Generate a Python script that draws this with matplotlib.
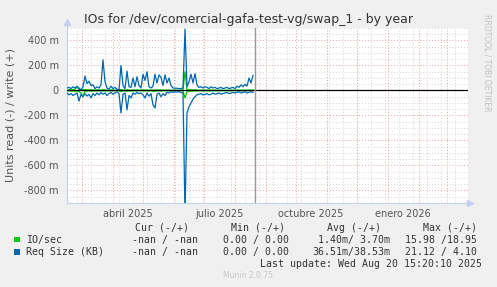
import matplotlib
matplotlib.use("Agg")
import matplotlib.pyplot as plt
import pandas as pd
from matplotlib.patches import Rectangle

# Datos (cada 2 días, desde 2025-02-14), valores en "m" (mili)
dates = pd.date_range("2025-02-14", periods=94, freq="2D")

req_write = [20, 25, 15, 30, 20, 35, 10, 5, 30, 115,
             55, 75, 40, 45, 15, 30, 20, 45, 245, 70,
             20, 10, 35, 15, 25, 10, 5, 200, 40, 15,
             155, 30, 25, 100, 30, 110, 40, 20, 130, 80,
             150, 30, 20, 35, 130, 60, 125, 105, 40, 125,
             60, 100, 40, 20, 18, 18, 15, 15, 20, 490,
             30, 70, 130, 60, 135, 45, 25, 30, 20, 30,
             25, 15, 30, 20, 25, 15, 20, 25, 15, 20,
             25, 15, 20, 25, 15, 35, 25, 45, 30, 50,
             35, 100, 60, 120]
req_read = [-20, -35, -25, -40, -30, -20, -85, -30, -50, -25,
            -45, -30, -60, -25, -40, -20, -35, -15, -30, -20,
            -40, -25, -15, -30, -20, -10, -25, -180, -30, -20,
            -155, -40, -60, -20, -30, -15, -25, -20, -35, -60,
            -20, -45, -25, -115, -140, -30, -20, -50, -25, -40,
            -15, -20, -10, -15, -10, -12, -10, -15, -20, -1000,
            -180, -130, -100, -70, -50, -35, -30, -25, -35, -30,
            -25, -35, -30, -20, -30, -25, -20, -30, -25, -20,
            -15, -25, -20, -15, -20, -15, -10, -20, -15, -10,
            -20, -15, -10, -15]
io_write = [5, 8, 10, 6, 12, 25, 20, 4, 6, 8,
            5, 6, 4, 5, 3, 4, 5, 3, 6, 4,
            3, 2, 4, 3, 2, 3, 2, 8, 3, 2,
            6, 3, 2, 4, 3, 4, 2, 3, 5, 3,
            4, 2, 3, 2, 5, 3, 4, 3, 2, 4,
            3, 3, 2, 2, 2, 2, 2, 2, 3, 150,
            8, 5, 6, 4, 6, 3, 2, 3, 2, 2,
            2, 2, 3, 2, 2, 2, 2, 2, 2, 2,
            2, 2, 2, 2, 2, 3, 2, 3, 2, 3,
            2, 4, 3, 5]
io_read = [-3, -4, -5, -3, -6, -4, -8, -20, -50, -6,
           -4, -3, -5, -3, -4, -2, -3, -2, -3, -2,
           -3, -2, -2, -3, -2, -1, -2, -8, -3, -2,
           -6, -3, -4, -2, -3, -2, -2, -2, -3, -4,
           -2, -3, -2, -5, -6, -2, -2, -3, -2, -3,
           -2, -2, -1, -1, -1, -1, -1, -1, -2, -60,
           -8, -6, -5, -4, -3, -3, -2, -2, -3, -2,
           -2, -3, -2, -2, -2, -2, -2, -2, -2, -2,
           -1, -2, -2, -1, -2, -1, -1, -2, -1, -1,
           -2, -1, -1, -1]

y_ticks = [-800, -600, -400, -200, 0, 200, 400]
x_labels = ["abril 2025", "julio 2025", "octubre 2025", "enero 2026"]
x_label_dates = pd.to_datetime(["2025-04-16", "2025-07-16", "2025-10-16", "2026-01-16"])

W, H = 497, 287
fig = plt.figure(figsize=(W / 100, H / 100), dpi=100, facecolor="#f0f0f0")
ax = fig.add_axes([67 / W, 1 - 203 / H, (468 - 67) / W, (203 - 28) / H])
ax.set_facecolor("white")

x0 = pd.Timestamp("2025-02-14")
x1 = pd.Timestamp("2026-03-22")
ax.set_xlim(x0, x1)
ax.set_ylim(-900, 500)

# rejilla
for v in range(-900, 501, 50):
    if v % 200 == 0:
        continue
    ax.axhline(v, color="#d4d4d4", lw=0.7, ls=(0, (1, 2)), zorder=0)
for v in range(-800, 401, 200):
    ax.axhline(v, color="#e8a0a0", lw=0.7, ls=(0, (1, 2)), zorder=0)
for d in pd.date_range("2025-02-24", x1, freq="14D"):
    ax.axvline(d, color="#d4d4d4", lw=0.7, ls=(0, (1, 2)), zorder=0)
for d in pd.date_range("2025-03-01", x1, freq="MS"):
    ax.axvline(d, color="#e8a0a0", lw=0.7, ls=(0, (1, 2)), zorder=0)

ax.plot(dates, io_write, color="#00cc00", lw=0.9, zorder=2)
ax.plot(dates, io_read, color="#00cc00", lw=0.9, zorder=2)
ax.plot(dates, req_write, color="#0066b3", lw=0.9, zorder=3)
ax.plot(dates, req_read, color="#0066b3", lw=0.9, zorder=3)
ax.axhline(0, color="black", lw=0.9, zorder=4)
ax.axvline(pd.Timestamp("2025-08-20 15:20"), color="#999999", lw=1, zorder=4)

# ejes
for s in ["top", "right"]:
    ax.spines[s].set_visible(False)
for s in ["left", "bottom"]:
    ax.spines[s].set_color("#c8cef0")
    ax.spines[s].set_linewidth(0.8)
ax.spines["left"].set_bounds(-900, 540)
ax.plot([1.005], [0], marker=">", ms=4, color="#c8cef0", transform=ax.transAxes, clip_on=False)
ax.plot([0], [1.035], marker="^", ms=4, color="#c8cef0", transform=ax.transAxes, clip_on=False)

ax.set_yticks(y_ticks)
ax.set_yticklabels([f"{v} m" if v != 0 else "0" for v in y_ticks])
ax.set_xticks(x_label_dates)
ax.set_xticklabels(x_labels)
ax.tick_params(length=0, labelsize=7, colors="#555555")
ax.tick_params(axis="y", pad=6)
ax.tick_params(axis="x", pad=4)
ax.set_ylabel("Units read (-) / write (+)", fontsize=8, color="#555555", labelpad=6)

fig.text(248 / W, 1 - 19 / H, "IOs for /dev/comercial-gafa-test-vg/swap_1 - by year",
         ha="center", va="center", fontsize=9, color="#333333")
fig.text(487 / W, 1 - 14 / H, "RRDTOOL / TOBI OETIKER", rotation=270,
         ha="center", va="top", fontsize=5.5, color="#c0c0c0")


def ftext(x, y, s, ha="left", color="#333333"):
    fig.text(x / W, 1 - y / H, s, ha=ha, va="center", fontsize=7.1,
             family="DejaVu Sans Mono", color=color)


ftext(134.7, 228, "Cur (-/+)")
ftext(230.7, 228, "Min (-/+)")
ftext(326.7, 228, "Avg (-/+)")
ftext(422.7, 228, "Max (-/+)")

ftext(26.3, 239.5, "IO/sec")
ftext(131.7, 239.5, "-nan / -nan")
ftext(222.7, 239.5, "0.00 / 0.00")
ftext(390, 239.5, "1.40m/ 3.70m", ha="right")
ftext(476.7, 239.5, "15.98 /18.95", ha="right")

ftext(26.3, 251.8, "Req Size (KB)")
ftext(131.7, 251.8, "-nan / -nan")
ftext(222.7, 251.8, "0.00 / 0.00")
ftext(390, 251.8, "36.51m/38.53m", ha="right")
ftext(476.7, 251.8, "21.12 / 4.10", ha="right")

ftext(482.3, 263.8, "Last update: Wed Aug 20 15:20:10 2025", ha="right")

fig.patches.append(Rectangle((14 / W, 1 - 242 / H), 5.5 / W, 5.5 / H,
                             transform=fig.transFigure, facecolor="#00cc00", edgecolor="none"))
fig.patches.append(Rectangle((14 / W, 1 - 254.5 / H), 5.5 / W, 5.5 / H,
                             transform=fig.transFigure, facecolor="#0066b3", edgecolor="none"))

fig.text(248 / W, 1 - 276 / H, "Munin 2.0.75", ha="center", va="center",
         fontsize=5.5, color="#c8c8c8")

fig.savefig("out.png", dpi=100, facecolor=fig.get_facecolor())
